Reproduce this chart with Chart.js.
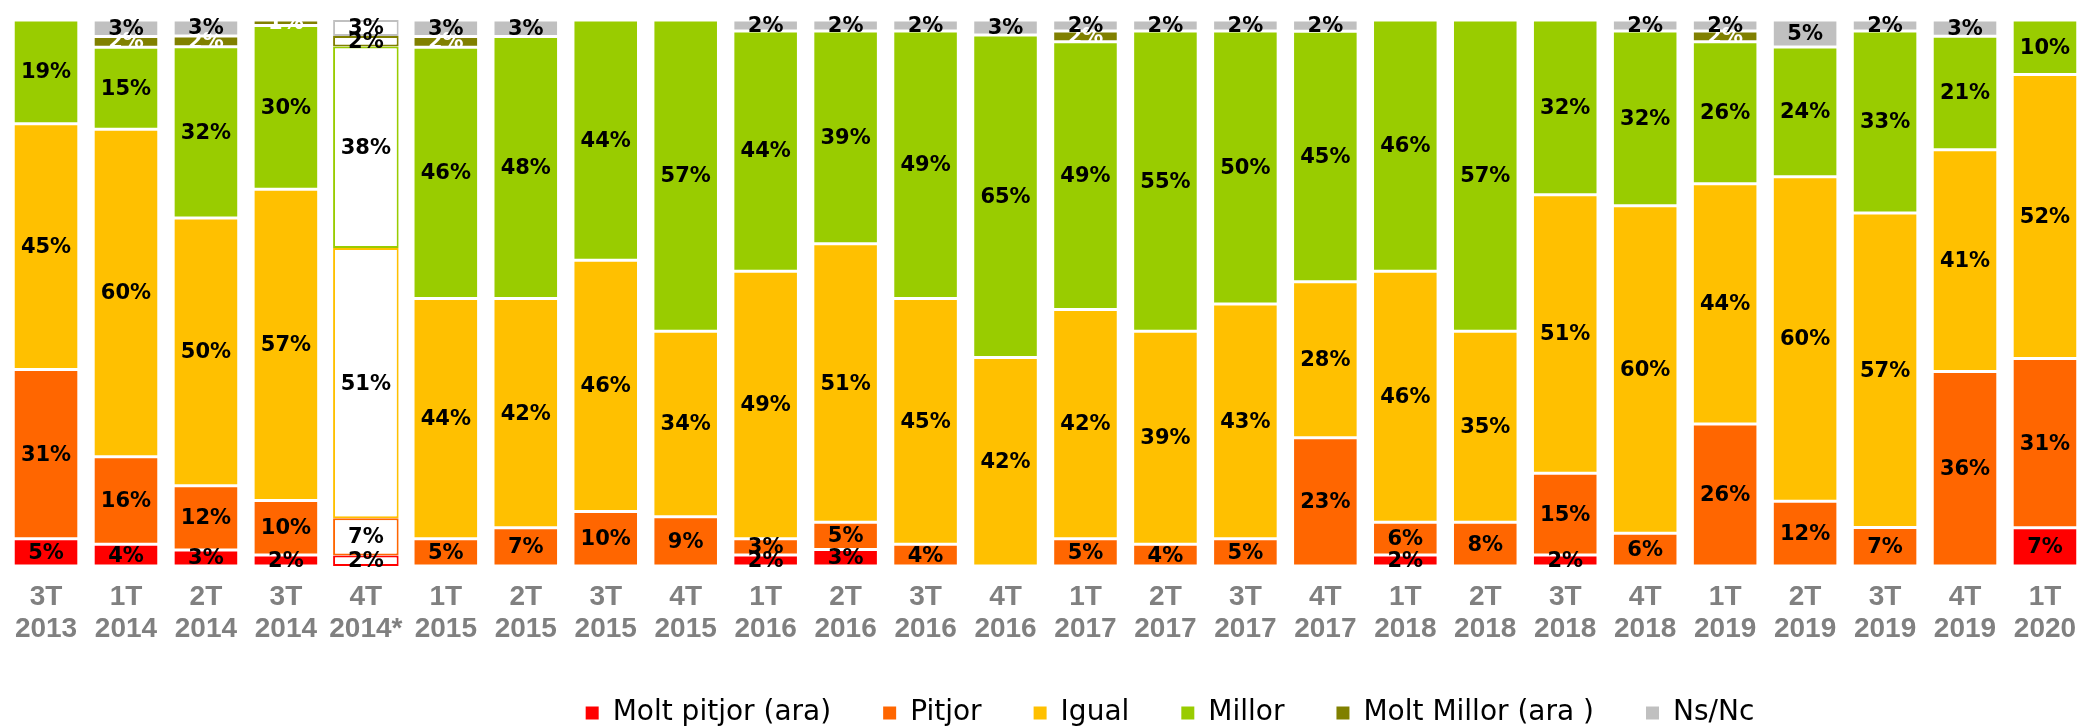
<!DOCTYPE html>
<html lang="ca">
<head>
<meta charset="UTF-8">
<title>Valoració per trimestres</title>
<script src="https://cdn.jsdelivr.net/npm/chart.js"></script>
<style>
  html, body { margin: 0; padding: 0; background: #fff; }
  .grafic { width: 2091px; height: 727px; position: relative; }
</style>
</head>
<body>
<div class="grafic"><canvas id="grafic"></canvas></div>

<script>
// trimestres (eix X)
const trimestres = [
  ['3T', '2013'], ['1T', '2014'], ['2T', '2014'], ['3T', '2014'], ['4T', '2014*'],
  ['1T', '2015'], ['2T', '2015'], ['3T', '2015'], ['4T', '2015'],
  ['1T', '2016'], ['2T', '2016'], ['3T', '2016'], ['4T', '2016'],
  ['1T', '2017'], ['2T', '2017'], ['3T', '2017'], ['4T', '2017'],
  ['1T', '2018'], ['2T', '2018'], ['3T', '2018'], ['4T', '2018'],
  ['1T', '2019'], ['2T', '2019'], ['3T', '2019'], ['4T', '2019'],
  ['1T', '2020']
];

// percentatges tal com surten a les etiquetes
const moltPitjor = [5, 4, 3, 2, 2, 0, 0, 0, 0, 2, 3, 0, 0, 0, 0, 0, 0, 2, 0, 2, 0, 0, 0, 0, 0, 7];
const pitjor     = [31, 16, 12, 10, 7, 5, 7, 10, 9, 3, 5, 4, 0, 5, 4, 5, 23, 6, 8, 15, 6, 26, 12, 7, 36, 31];
const igual      = [45, 60, 50, 57, 51, 44, 42, 46, 34, 49, 51, 45, 42, 42, 39, 43, 28, 46, 35, 51, 60, 44, 60, 57, 41, 52];
const millor     = [19, 15, 32, 30, 38, 46, 48, 44, 57, 44, 39, 49, 65, 49, 55, 50, 45, 46, 57, 32, 32, 26, 24, 33, 21, 10];
const moltMillor = [0, 2, 2, 1, 2, 2, 0, 0, 0, 0, 0, 0, 0, 2, 0, 0, 0, 0, 0, 0, 0, 2, 0, 0, 0, 0];
const nsnc       = [0, 3, 3, 0, 3, 3, 3, 0, 0, 2, 2, 2, 3, 2, 2, 2, 2, 0, 0, 0, 2, 2, 5, 2, 3, 0];

const noms    = ['Molt pitjor (ara)', 'Pitjor', 'Igual', 'Millor', 'Molt Millor (ara )', 'Ns/Nc'];
const colors  = ['#ff0000', '#ff6600', '#ffc000', '#99cc00', '#808000', '#c0c0c0'];
const series  = [moltPitjor, pitjor, igual, millor, moltMillor, nsnc];

// el 4T 2014* es dibuixa buit, només amb la vora
const buit = 4;

// barres apilades al 100% (com l'Excel)
const totals = trimestres.map((t, j) => series.reduce((s, a) => s + a[j], 0));

const datasets = series.map((serie, i) => ({
  label: noms[i],
  data: serie.map((v, j) => v / totals[j] * 100),
  valors: serie,
  backgroundColor: (c) => c.dataIndex === buit ? '#ffffff' : colors[i],
  borderColor: (c) => c.dataIndex === buit ? colors[i] : '#ffffff',
  borderWidth: (c) => c.dataIndex === buit ? 2 : 1.5,
  borderSkipped: false,
  barPercentage: 0.82,
  categoryPercentage: 1
}));

// etiquetes de dades dins de cada tros
const etiquetes = {
  id: 'etiquetes',
  afterDatasetsDraw(chart) {
    const ctx = chart.ctx;
    ctx.save();
    ctx.font = 'bold 21px "DejaVu Sans"';
    ctx.textAlign = 'center';
    ctx.textBaseline = 'middle';
    chart.data.datasets.forEach((ds, i) => {
      chart.getDatasetMeta(i).data.forEach((barra, j) => {
        const v = ds.valors[j];
        if (!v) return;
        ctx.fillStyle = (i === 4 && j !== buit) ? '#ffffff' : '#000000';
        ctx.fillText(v + '%', barra.x, (barra.y + barra.base) / 2 + 1);
      });
    });
    ctx.restore();
  }
};

// la llegenda de l'original no està centrada: la desplacem una mica
const llegendaLloc = {
  id: 'llegendaLloc',
  afterLayout(chart) {
    const l = chart.legend;
    l.left += 128; l.right += 128;
    l.top -= 13; l.bottom -= 13;
  }
};

new Chart(document.getElementById('grafic'), {
  type: 'bar',
  data: { labels: trimestres, datasets: datasets },
  plugins: [etiquetes, llegendaLloc],
  options: {
    responsive: true,
    maintainAspectRatio: false,
    animation: false,
    layout: { padding: { left: -9, right: -2, top: 20, bottom: -23 } },
    scales: {
      x: {
        stacked: true,
        grid: { display: false, drawTicks: false },
        border: { display: false },
        ticks: {
          color: '#808080',
          padding: 15,
          maxRotation: 0,
          autoSkip: false,
          font: { family: '"Liberation Sans", Arial, sans-serif', size: 28, weight: 'bold', lineHeight: '32px' }
        }
      },
      y: {
        stacked: true,
        display: false,
        min: 0,
        max: 100
      }
    },
    plugins: {
      tooltip: { enabled: false },
      legend: {
        position: 'bottom',
        labels: {
          boxWidth: 13,
          boxHeight: 13,
          padding: 52,
          color: '#000',
          font: { family: '"DejaVu Sans"', size: 28 },
          generateLabels: (chart) => chart.data.datasets.map((d, i) => ({
            text: d.label,
            fillStyle: colors[i],
            strokeStyle: colors[i],
            lineWidth: 0,
            hidden: false,
            datasetIndex: i
          }))
        }
      }
    }
  }
});
</script>
</body>
</html>
